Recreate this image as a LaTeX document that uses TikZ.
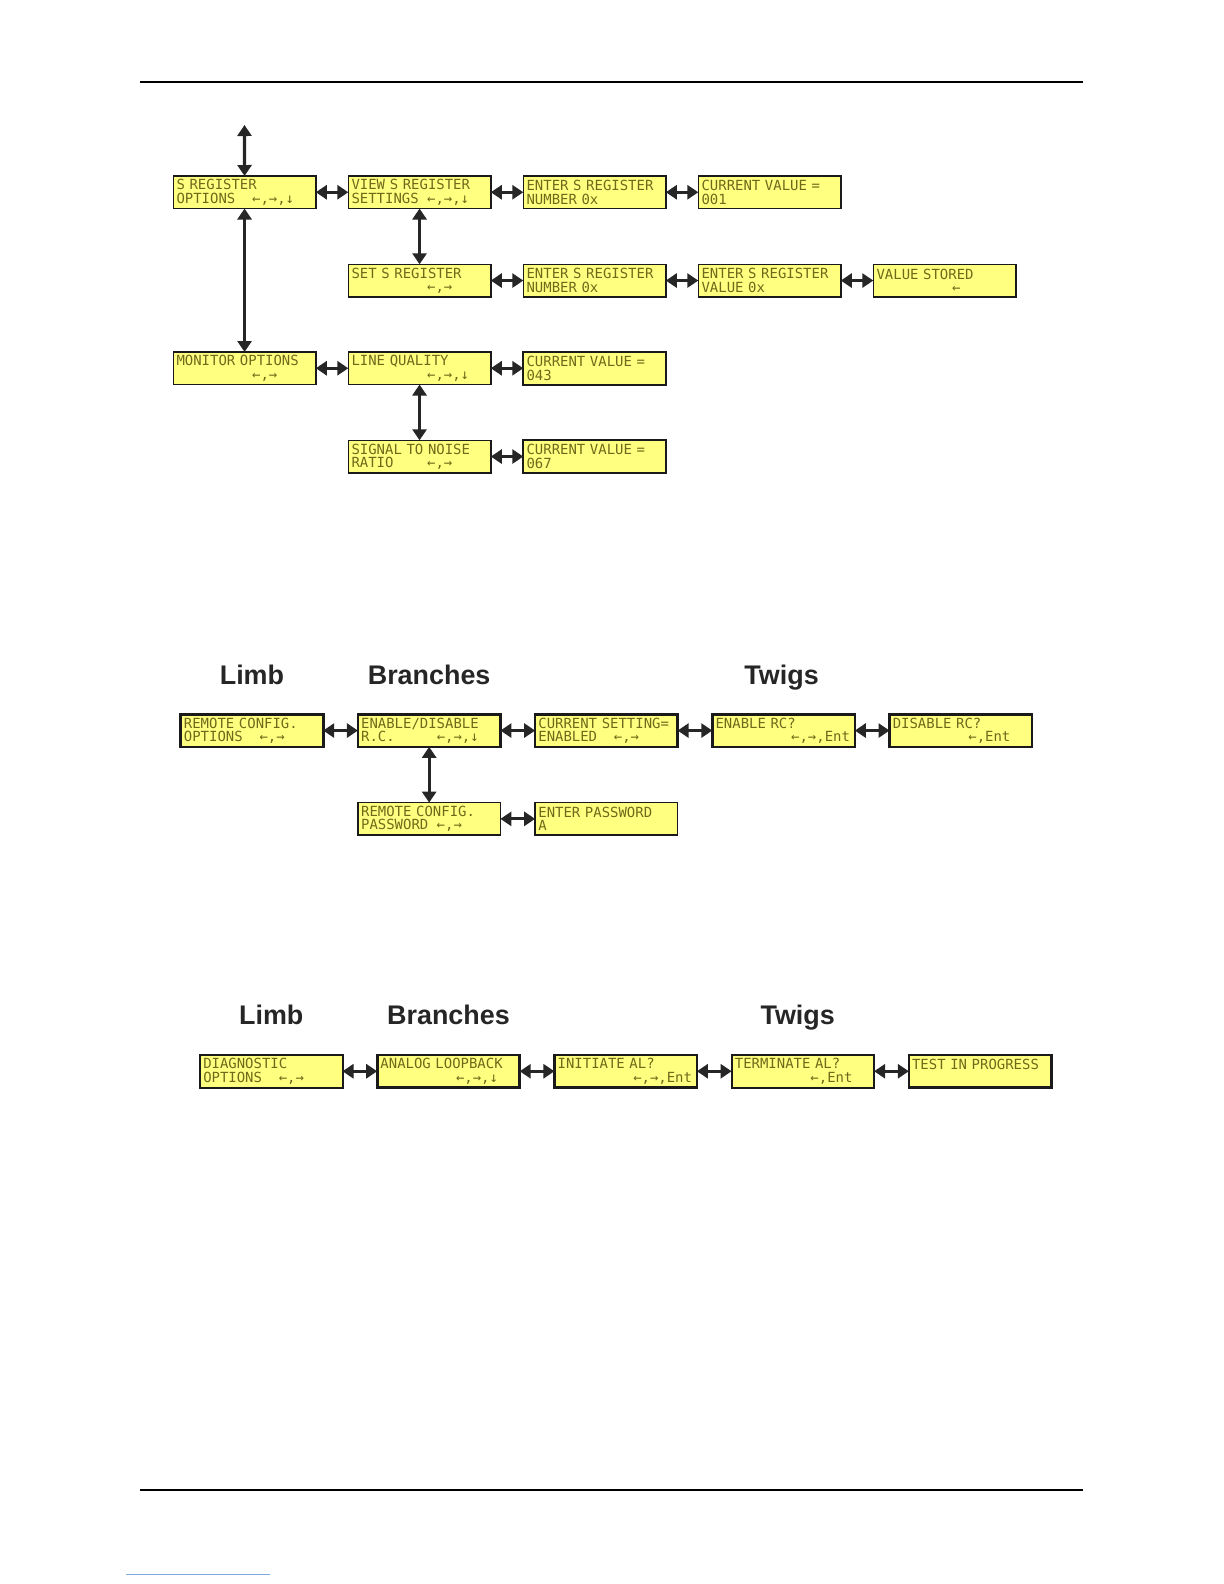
\documentclass[tikz,border=0pt]{standalone}
\usepackage{fontspec}
\setsansfont{Liberation Sans}
\newfontfamily\lcdfont{DejaVu Sans Mono}
\usepackage{tikz}
\usetikzlibrary{
  arrows.meta,
  positioning
}
\definecolor{lcdFill}{HTML}{FFFF80}
\definecolor{lcdText}{HTML}{6E6A1A}
\definecolor{lcdEdge}{HTML}{1A1A1A}
\definecolor{linkBlue}{HTML}{7FA7E0}
% second display line: prefix padded to 9 cells, then the keys
\newcommand\lcdrow[2]{\makebox[5.42em][l]{#1}#2}
\tikzset{
  lcd/.style={
    draw=lcdEdge, fill=lcdFill, line width=0.7bp, outer sep=0pt,
    minimum width=71.25bp, minimum height=16.25bp, text width=68bp,
    inner xsep=1.6bp, inner ysep=0pt, align=left, text=lcdText,
    font=\lcdfont\fontsize{7}{6.75}\selectfont
  },
  lcdb/.style={lcd, line width=1.3bp},
  link/.style={{Triangle[length=5.5bp,width=7bp]}-{Triangle[length=5.5bp,width=7bp]},
    line width=1.6bp, black!85},
  head/.style={font=\sffamily\bfseries\fontsize{13.5}{16}\selectfont,
    text=black!85, inner sep=0pt, text depth=0pt},
  rule/.style={line width=0.6bp, black}
}
\begin{document}
\begin{tikzpicture}[x=0.5bp, y=-0.5bp, node distance=27.9bp and 16.25bp]
  \useasboundingbox (0,0) rectangle (1224,1584);
  \draw[rule] (140,82) -- (1083,82);
  \draw[rule] (140,1490) -- (1083,1490);
  \draw[linkBlue, line width=0.5bp] (126,1574) -- (270,1574);

  % S register and monitor menus
  \coordinate (topend) at (244.5,125);
  \node[lcd, anchor=north west] (sregopt) at (173.3,176) {S REGISTER\\\lcdrow{OPTIONS}{←,→,↓}};
  \node[lcd, right=of sregopt] (viewsreg) {VIEW S REGISTER\\\lcdrow{SETTINGS}{←,→,↓}};
  \node[lcd, right=of viewsreg] (entersnum) {ENTER S REGISTER\\NUMBER 0x};
  \node[lcd, right=of entersnum] (curval) {CURRENT VALUE =\\001};
  \node[lcd, below=of viewsreg] (setsreg) {SET S REGISTER\\\lcdrow{}{←,→}};
  \node[lcd, right=of setsreg] (entersnumb) {ENTER S REGISTER\\NUMBER 0x};
  \node[lcd, right=of entersnumb] (entersval) {ENTER S REGISTER\\VALUE 0x};
  \node[lcd, right=of entersval] (valstored) {VALUE STORED\\\lcdrow{}{←}};
  \node[lcd, anchor=north west] (monopt) at (173.3,352) {MONITOR OPTIONS\\\lcdrow{}{←,→}};
  \node[lcd, right=of monopt] (linequal) {LINE QUALITY\\\lcdrow{}{←,→,↓}};
  \node[lcd, right=of linequal, line width=1bp] (curvalq) {CURRENT VALUE =\\043};
  \node[lcd, below=of linequal] (snr) {SIGNAL TO NOISE\\\lcdrow{RATIO}{←,→}};
  \node[lcd, right=of snr, line width=1bp] (curvalsnr) {CURRENT VALUE =\\067};
  \draw[link] (topend) -- (sregopt.north);
  \draw[link] (sregopt) -- (viewsreg); \draw[link] (viewsreg) -- (entersnum);
  \draw[link] (entersnum) -- (curval); \draw[link] (viewsreg) -- (setsreg);
  \draw[link] (setsreg) -- (entersnumb); \draw[link] (entersnumb) -- (entersval);
  \draw[link] (entersval) -- (valstored); \draw[link] (sregopt) -- (monopt);
  \draw[link] (monopt) -- (linequal); \draw[link] (linequal) -- (curvalq);
  \draw[link] (linequal) -- (snr); \draw[link] (snr) -- (curvalsnr);

  \begin{scope}[node distance=27.9bp and 17.35bp]
  % remote configuration menu
  \node[lcdb, anchor=north west] (rcopt) at (180.7,714.3) {REMOTE CONFIG.\\\lcdrow{OPTIONS}{←,→}};
  \node[lcdb, right=of rcopt] (rcenable) {ENABLE/DISABLE\\\lcdrow{R.C.}{←,→,↓}};
  \node[lcdb, right=of rcenable] (curset) {CURRENT SETTING=\\\lcdrow{ENABLED}{←,→}};
  \node[lcdb, right=of curset] (enablerc) {ENABLE RC?\\\lcdrow{}{←,→,Ent}};
  \node[lcdb, right=of enablerc] (disablerc) {DISABLE RC?\\\lcdrow{}{←,Ent}};
  \node[lcd, below=of rcenable] (rcpass) {REMOTE CONFIG.\\\lcdrow{PASSWORD}{←,→}};
  \node[lcd, right=of rcpass] (enterpass) {ENTER PASSWORD\\A};
  \node[head, above=14.6bp of rcopt] (limbrc) {Limb};
  \node[head, above=14.6bp of rcenable] (branchrc) {Branches};
  \node[head, above=14.6bp of enablerc, xshift=-1bp] (twigrc) {Twigs};
  \draw[link] (rcopt) -- (rcenable); \draw[link] (rcenable) -- (curset);
  \draw[link] (curset) -- (enablerc); \draw[link] (enablerc) -- (disablerc);
  \draw[link] (rcenable) -- (rcpass); \draw[link] (rcpass) -- (enterpass);

  % diagnostic menu
  \node[lcd, anchor=north west, line width=1bp] (diagopt) at (200,1055) {DIAGNOSTIC\\\lcdrow{OPTIONS}{←,→}};
  \node[lcdb, right=of diagopt] (analoglb) {ANALOG LOOPBACK\\\lcdrow{}{←,→,↓}};
  \node[lcdb, right=of analoglb] (inital) {INITIATE AL?\\\lcdrow{}{←,→,Ent}};
  \node[lcd, right=of inital, line width=1bp] (termal) {TERMINATE AL?\\\lcdrow{}{←,Ent}};
  \node[lcdb, right=of termal] (testprog) {TEST IN PROGRESS\\\lcdrow{}{}};
  \node[head, above=15bp of diagopt] (limbdg) {Limb};
  \node[head, above=15bp of analoglb] (branchdg) {Branches};
  \node[head, above=15bp of termal, xshift=-2.6bp] (twigdg) {Twigs};
  \draw[link] (diagopt) -- (analoglb); \draw[link] (analoglb) -- (inital);
  \draw[link] (inital) -- (termal); \draw[link] (termal) -- (testprog);
  \end{scope}
\end{tikzpicture}
\end{document}
